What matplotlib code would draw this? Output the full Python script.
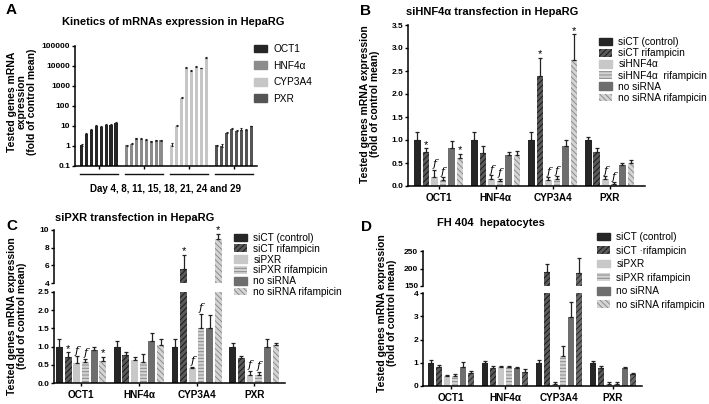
import matplotlib
matplotlib.use('Agg')
import matplotlib.pyplot as plt
from matplotlib.patches import Patch
import numpy as np

plt.rcParams['font.family'] = ['Liberation Sans', 'DejaVu Sans']
plt.rcParams['hatch.linewidth'] = 0.7

W, H = 709, 404

genes = ['OCT1', 'HNF4α', 'CYP3A4', 'PXR']

# A - kinetics, days 4, 8, 11, 15, 18, 21, 24, 29
kin_oct1 = [1.0, 3.7, 6.0, 10.2, 9.0, 10.8, 10.8, 13.5]
kin_oct1_err = [0.2, 0.6, 0.7, 1.0, 1.0, 1.2, 2.5, 1.5]
kin_hnf4a = [1.0, 1.2, 2.3, 2.2, 2.0, 1.6, 1.85, 1.8]
kin_hnf4a_err = [0.08, 0.15, 0.3, 0.25, 0.2, 0.15, 0.15, 0.1]
kin_cyp3a4 = [1.0, 10, 250, 8000, 5800, 9000, 7500, 25000]
kin_cyp3a4_err = [0.45, 1.0, 25, 1200, 700, 1200, 900, 3000]
kin_pxr = [1.0, 0.9, 4.6, 7.0, 5.8, 6.3, 6.3, 9.5]
kin_pxr_err = [0.08, 0.4, 0.5, 0.9, 0.6, 1.2, 1.0, 0.8]
kin_labels = ['OCT1', 'HNF4α', 'CYP3A4', 'PXR']

# B - siHNF4a, values per condition over the 4 genes
b_labels = ['siCT (control)', 'siCT rifampicin', 'siHNF4α', 'siHNF4α  rifampicin', 'no siRNA', 'no siRNA rifampicin']
b_vals = [[1.0, 1.0, 1.0, 1.0],
          [0.75, 0.72, 2.4, 0.75],
          [0.2, 0.15, 0.12, 0.15],
          [0.12, 0.1, 0.15, 0.05],
          [0.82, 0.67, 0.86, 0.45],
          [0.6, 0.68, 2.75, 0.5]]
b_err = [[0.18, 0.18, 0.17, 0.06],
         [0.07, 0.15, 0.38, 0.07],
         [0.15, 0.08, 0.07, 0.06],
         [0.07, 0.06, 0.06, 0.03],
         [0.15, 0.07, 0.15, 0.05],
         [0.1, 0.08, 0.55, 0.06]]
b_star = [(0, 1), (0, 5), (2, 1), (2, 5)]
b_f = [(0, 2), (0, 3), (1, 2), (1, 3), (2, 2), (2, 3), (3, 2), (3, 3)]

# C - siPXR
c_labels = ['siCT (control)', 'siCT rifampicin', 'siPXR', 'siPXR rifampicin', 'no siRNA', 'no siRNA rifampicin']
c_vals = [[1.0, 1.0, 1.0, 1.0],
          [0.72, 0.76, 5.6, 0.7],
          [0.55, 0.64, 0.4, 0.22],
          [0.57, 0.57, 1.5, 0.22],
          [0.92, 1.16, 1.5, 1.0],
          [0.6, 1.05, 9.0, 1.05]]
c_err = [[0.22, 0.15, 0.2, 0.1],
         [0.12, 0.08, 1.6, 0.05],
         [0.18, 0.08, 0.05, 0.12],
         [0.1, 0.22, 0.4, 0.08],
         [0.08, 0.22, 0.38, 0.2],
         [0.12, 0.15, 0.6, 0.06]]
c_star = [(0, 1), (0, 5), (2, 1), (2, 5)]
c_f = [(0, 2), (0, 3), (2, 2), (2, 3), (3, 2), (3, 3)]

# D - FH 404 hepatocytes
d_labels = ['siCT (control)', 'siCT \u00b7rifampicin', 'siPXR', 'siPXR rifampicin', 'no siRNA', 'no siRNA rifampicin']
d_vals = [[1.0, 1.0, 1.0, 1.0],
          [0.8, 0.78, 190, 0.76],
          [0.42, 0.82, 0.1, 0.1],
          [0.45, 0.82, 1.3, 0.1],
          [0.82, 0.78, 2.95, 0.78],
          [0.55, 0.62, 188, 0.52]]
d_err = [[0.12, 0.06, 0.12, 0.07],
         [0.1, 0.08, 22, 0.1],
         [0.06, 0.03, 0.08, 0.08],
         [0.05, 0.06, 0.4, 0.06],
         [0.2, 0.03, 0.65, 0.05],
         [0.08, 0.12, 42, 0.06]]

kin_colors = ['#262626', '#8c8c8c', '#c6c6c6', '#555555']

estilos = [dict(color='#262626'),
           dict(facecolor='#5a5a5a', edgecolor='#1a1a1a', hatch='//////', linewidth=0),
           dict(color='#c8c8c8'),
           dict(facecolor='#d2d2d2', edgecolor='#8a8a8a', hatch='-----', linewidth=0),
           dict(color='#6e6e6e'),
           dict(facecolor='#d4d4d4', edgecolor='#8c8c8c', hatch='\\\\\\\\\\\\', linewidth=0)]
estilos_d = estilos[:5] + [dict(facecolor='#6a6a6a', edgecolor='#2a2a2a', hatch='//////', linewidth=0)]

fig = plt.figure(figsize=(W / 100, H / 100), dpi=100)


def eixo(x0, y0, x1, y1):
    return fig.add_axes([x0 / W, 1 - y1 / H, (x1 - x0) / W, (y1 - y0) / H])


def arruma(ax, bottom=True):
    ax.spines['top'].set_visible(False)
    ax.spines['right'].set_visible(False)
    ax.spines['left'].set_linewidth(1.1)
    ax.spines['bottom'].set_linewidth(1.1)
    ax.tick_params(width=1, length=2.5, pad=1, labelsize=6)
    for t in ax.get_yticklabels():
        t.set_fontweight('bold')
    if not bottom:
        ax.spines['bottom'].set_visible(False)
        ax.set_xticks([])


def barras(ax, vals, errs, sts, passo=0.15, larg=0.118):
    n = len(vals)
    for j in range(n):
        x = np.arange(len(vals[j])) + (j - (n - 1) / 2) * passo
        ax.bar(x, vals[j], larg, **sts[j])
        ax.errorbar(x, vals[j], yerr=[np.zeros(len(x)), errs[j]], fmt='none',
                    ecolor='#222222', elinewidth=0.9, capsize=1.5, capthick=0.9)


def marcas(axes, vals, errs, pos, txt, passo=0.15):
    n = len(vals)
    for g, j in pos:
        x = g + (j - (n - 1) / 2) * passo
        topo = vals[j][g] + errs[j][g]
        ax = axes[0]
        for a in axes:
            if a.get_ylim()[0] <= topo:
                ax = a
        if txt == '*':
            ax.annotate('*', (x, topo), xytext=(0, -1), textcoords='offset points',
                        ha='center', va='bottom', fontsize=8)
        else:
            ax.annotate('f', (x, topo), xytext=(0, 0.5), textcoords='offset points',
                        ha='center', va='bottom', fontsize=8, style='italic', family='DejaVu Serif')


def legenda(ax, labels, sts, x, y, esp):
    hs = [Patch(**s) for s in sts]
    ax.legend(hs, labels, loc='upper left', bbox_to_anchor=(x / W, 1 - y / H),
              bbox_transform=fig.transFigure, frameon=False, fontsize=7.3,
              handlelength=1.3, handleheight=0.8, handletextpad=0.6,
              labelspacing=esp, borderpad=0, borderaxespad=0)


def xgenes(ax):
    ax.set_xticks(range(4))
    ax.set_xticklabels(genes, fontsize=7.2, fontweight='bold')
    ax.tick_params(axis='x', pad=2.5)


# ---- A
axA = eixo(75, 46, 257, 166)
kin = [kin_oct1, kin_hnf4a, kin_cyp3a4, kin_pxr]
kin_e = [kin_oct1_err, kin_hnf4a_err, kin_cyp3a4_err, kin_pxr_err]
for g in range(4):
    x = g + (np.arange(8) - 3.5) * 0.11
    axA.bar(x, kin[g], 0.08, bottom=0.1, color=kin_colors[g])
    axA.errorbar(x, kin[g], yerr=[np.zeros(8), kin_e[g]], fmt='none', ecolor='#222222',
                 elinewidth=0.8, capsize=1, capthick=0.8)
axA.set_yscale('log')
axA.set_ylim(0.1, 100000)
axA.set_xlim(-0.53, 3.51)
axA.set_yticks([0.1, 1, 10, 100, 1000, 10000, 100000])
axA.set_yticklabels(['0.1', '1', '10', '100', '1000', '10000', '100000'])
axA.minorticks_off()
axA.set_xticks(range(4))
axA.set_xticklabels([])
arruma(axA)
for g in range(4):
    axA.plot([g - 0.43, g + 0.43], [-0.066, -0.066], color='#111111', lw=1,
             transform=axA.get_xaxis_transform(), clip_on=False)
fig.text(165 / W, 1 - 189 / H, 'Day 4, 8, 11, 15, 18, 21, 24 and 29', ha='center', va='center',
         fontsize=7, fontweight='bold')
legenda(axA, kin_labels, [dict(color=c) for c in kin_colors], 254, 44, 0.65)
fig.text(173 / W, 1 - 22 / H, 'Kinetics of mRNAs expression in HepaRG', ha='center', va='center',
         fontsize=8, fontweight='bold')
fig.text(22 / W, 1 - 102 / H, 'Tested genes mRNA\nexpression\n(fold of control mean)', rotation=90,
         ha='center', va='center', fontsize=7.5, fontweight='bold', linespacing=1.0)
fig.text(6 / W, 1 - 10 / H, 'A', fontsize=11, fontweight='bold', va='center')

# ---- B
axB = eixo(408, 25, 645, 186)
barras(axB, b_vals, b_err, estilos)
axB.set_ylim(0, 3.5)
axB.set_xlim(-0.54, 3.62)
axB.set_yticks(np.arange(0, 3.6, 0.5))
axB.set_yticklabels(['%.1f' % v for v in np.arange(0, 3.6, 0.5)])
arruma(axB)
xgenes(axB)
marcas([axB], b_vals, b_err, b_star, '*')
marcas([axB], b_vals, b_err, b_f, 'f')
legenda(axB, b_labels, estilos, 599, 37, 0.12)
fig.text(492 / W, 1 - 12 / H, 'siHNF4α transfection in HepaRG', ha='center', va='center',
         fontsize=8, fontweight='bold')
fig.text(370 / W, 1 - 104 / H, 'Tested genes mRNA expression\n(fold of control mean)', rotation=90,
         ha='center', va='center', fontsize=7.5, fontweight='bold', linespacing=1.0)
fig.text(360 / W, 1 - 11 / H, 'B', fontsize=11, fontweight='bold', va='center')

# ---- C
axC1 = eixo(54, 230, 285, 283)
axC2 = eixo(54, 292, 285, 383)
for ax in [axC1, axC2]:
    barras(ax, c_vals, c_err, estilos)
    ax.set_xlim(-0.47, 3.53)
axC1.set_ylim(4, 10)
axC1.set_yticks([4, 6, 8, 10])
axC2.set_ylim(0, 2.5)
axC2.set_yticks(np.arange(0, 2.6, 0.5))
axC2.set_yticklabels(['%.1f' % v for v in np.arange(0, 2.6, 0.5)])
arruma(axC1, bottom=False)
arruma(axC2)
xgenes(axC2)
marcas([axC2, axC1], c_vals, c_err, c_star, '*')
marcas([axC2, axC1], c_vals, c_err, c_f, 'f')
legenda(axC2, c_labels, estilos, 234, 233, 0.08)
fig.text(135 / W, 1 - 218 / H, 'siPXR transfection in HepaRG', ha='center', va='center',
         fontsize=8, fontweight='bold')
fig.text(17 / W, 1 - 316 / H, 'Tested genes mRNA expression\n(fold of control mean)', rotation=90,
         ha='center', va='center', fontsize=7.5, fontweight='bold', linespacing=1.0)
fig.text(6 / W, 1 - 226 / H, 'C', fontsize=11, fontweight='bold', va='center')

# ---- D
axD1 = eixo(423, 251, 642, 286)
axD2 = eixo(423, 293, 642, 386)
for ax in [axD1, axD2]:
    barras(ax, d_vals, d_err, estilos_d, passo=0.148, larg=0.115)
    ax.set_xlim(-0.52, 3.54)
axD1.set_ylim(150, 250)
axD1.set_yticks([150, 200, 250])
axD2.set_ylim(0, 4)
axD2.set_yticks([0, 1, 2, 3, 4])
arruma(axD1, bottom=False)
arruma(axD2)
xgenes(axD2)
legenda(axD2, d_labels, estilos, 597, 232, 0.35)
fig.text(437 / W, 1 - 223 / H, 'FH 404  hepatocytes', ha='left', va='center',
         fontsize=8, fontweight='bold')
fig.text(387 / W, 1 - 313 / H, 'Tested genes mRNA expression\n(fold of control mean)', rotation=90,
         ha='center', va='center', fontsize=7.5, fontweight='bold', linespacing=1.0)
fig.text(361 / W, 1 - 227 / H, 'D', fontsize=11, fontweight='bold', va='center')

fig.savefig('out.png', dpi=100)
